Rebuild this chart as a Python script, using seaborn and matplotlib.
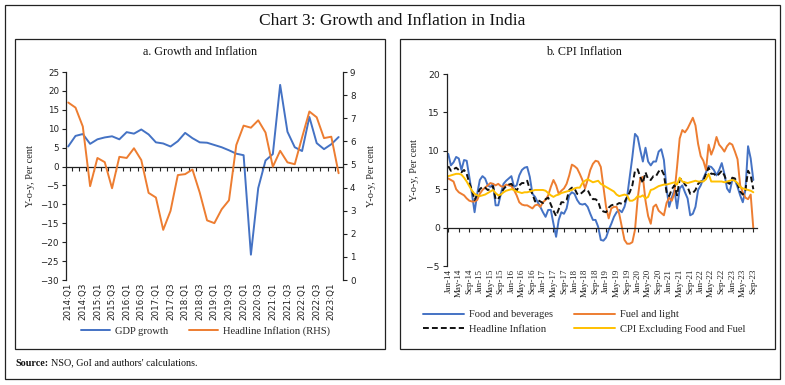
import numpy as np
import pandas as pd
import matplotlib
matplotlib.use("Agg")
import matplotlib.pyplot as plt
import seaborn as sns
from matplotlib.patches import Rectangle

# ---------------- data ----------------
quarters = ["2014:Q1", "2014:Q2", "2014:Q3", "2014:Q4", "2015:Q1", "2015:Q2", "2015:Q3", "2015:Q4",
            "2016:Q1", "2016:Q2", "2016:Q3", "2016:Q4", "2017:Q1", "2017:Q2", "2017:Q3", "2017:Q4",
            "2018:Q1", "2018:Q2", "2018:Q3", "2018:Q4", "2019:Q1", "2019:Q2", "2019:Q3", "2019:Q4",
            "2020:Q1", "2020:Q2", "2020:Q3", "2020:Q4", "2021:Q1", "2021:Q2", "2021:Q3", "2021:Q4",
            "2022:Q1", "2022:Q2", "2022:Q3", "2022:Q4", "2023:Q1", "2023:Q2"]
gdp_growth = [5.3, 8.1, 8.6, 6.0, 7.2, 7.7, 8.0, 7.2, 9.1, 8.7, 9.8, 8.5, 6.4, 6.1, 5.3, 6.7,
              8.9, 7.5, 6.4, 6.3, 5.7, 5.1, 4.3, 3.4, 3.0, -23.3, -5.7, 1.6, 3.3, 21.6, 9.2, 5.1,
              4.1, 13.1, 6.2, 4.6, 5.9, 7.8]
headline_q = [7.68, 7.46, 6.64, 4.06, 5.28, 5.10, 3.97, 5.33, 5.28, 5.70, 5.19, 3.77, 3.57, 2.17,
              2.99, 4.54, 4.58, 4.78, 3.78, 2.58, 2.46, 3.06, 3.45, 5.84, 6.68, 6.59, 6.91, 6.38,
              4.90, 5.59, 5.09, 5.01, 6.17, 7.29, 7.04, 6.14, 6.20, 4.62]

months = pd.date_range("2014-01-01", "2023-09-01", freq="MS").strftime("%b-%y").tolist()
food = [9.6, 8.1, 8.5, 9.2, 9.0, 7.5, 8.8, 8.7, 6.6, 4.4, 2.0, 4.4,
        6.2, 6.7, 6.4, 5.5, 5.3, 5.7, 2.9, 2.9, 4.4, 5.7, 6.1, 6.4,
        6.7, 5.3, 5.5, 6.8, 7.5, 7.8, 7.9, 6.6, 4.4, 4.0, 3.3, 2.7,
        2.0, 1.4, 2.3, 2.3, 0.5, -1.2, 1.0, 2.0, 1.8, 2.5, 4.2, 4.6,
        4.4, 3.6, 3.1, 3.0, 3.1, 2.7, 1.8, 1.0, 1.0, 0.1, -1.6, -1.7,
        -1.3, -0.3, 0.5, 1.4, 2.0, 2.3, 2.0, 2.7, 4.0, 6.6, 9.2, 12.2,
        11.8, 10.1, 8.6, 10.4, 8.6, 8.1, 8.6, 8.6, 9.9, 10.2, 8.8, 5.1,
        2.7, 3.9, 4.9, 2.5, 5.1, 5.5, 4.6, 3.8, 1.6, 1.8, 2.7, 4.9,
        5.5, 6.4, 7.2, 8.0, 7.9, 7.5, 6.8, 7.5, 8.4, 7.0, 5.1, 4.6,
        6.2, 6.2, 5.3, 4.2, 3.3, 4.9, 10.6, 9.0, 6.2]
fuel = [6.4, 6.2, 6.0, 5.0, 4.6, 4.4, 4.2, 3.8, 3.5, 3.4, 3.4, 3.6,
        4.4, 4.9, 5.2, 5.5, 5.8, 5.7, 5.5, 5.7, 5.4, 5.3, 5.6, 5.5,
        5.4, 4.9, 4.2, 3.3, 3.0, 2.9, 2.9, 2.7, 2.5, 2.9, 3.0, 2.7,
        3.3, 3.6, 4.2, 5.3, 6.2, 5.5, 4.4, 4.8, 5.1, 5.7, 6.8, 8.2,
        8.0, 7.7, 7.0, 6.2, 5.1, 6.2, 7.5, 8.3, 8.7, 8.6, 7.9, 5.3,
        2.7, 1.2, 2.5, 2.7, 2.7, 1.8, 0.1, -1.6, -2.1, -2.1, -1.9, -0.3,
        3.7, 6.4, 6.6, 3.5, 1.5, 0.5, 2.7, 3.0, 2.2, 1.9, 1.6, 3.2,
        3.9, 3.5, 4.5, 7.9, 11.6, 12.7, 12.4, 12.9, 13.6, 14.3, 13.3, 10.9,
        9.3, 8.7, 7.5, 10.8, 9.5, 10.4, 11.8, 10.8, 10.4, 9.9, 10.6, 11.0,
        10.8, 9.9, 8.9, 5.5, 4.6, 3.9, 3.7, 4.3, -0.1]
headline_m = [8.0, 7.4, 7.6, 7.8, 7.5, 7.2, 7.5, 7.0, 5.8, 4.9, 3.6, 4.3,
              5.0, 5.3, 5.2, 4.9, 5.0, 5.4, 3.7, 3.7, 4.4, 5.0, 5.4, 5.6,
              5.7, 5.2, 4.8, 5.5, 5.8, 5.8, 6.1, 5.0, 4.4, 3.4, 3.6, 3.4,
              3.2, 3.7, 3.9, 3.0, 2.2, 1.5, 2.4, 3.3, 3.3, 3.6, 4.9, 5.2,
              5.1, 4.4, 4.3, 4.6, 4.9, 4.9, 4.2, 3.7, 3.7, 3.4, 2.3, 2.1,
              2.0, 2.6, 2.9, 3.0, 3.0, 3.2, 3.1, 3.3, 4.0, 4.6, 5.5, 7.4,
              7.6, 6.6, 5.8, 7.2, 6.3, 6.2, 6.7, 6.7, 7.3, 7.6, 6.9, 4.6,
              4.1, 5.0, 5.5, 4.2, 6.3, 6.3, 5.6, 5.3, 4.4, 4.5, 4.9, 5.7,
              6.0, 6.1, 7.0, 7.8, 7.0, 7.0, 6.7, 7.0, 7.4, 6.8, 5.9, 5.7,
              6.5, 6.4, 5.7, 4.7, 4.3, 4.9, 7.4, 6.8, 5.0]
core = [6.7, 6.8, 6.9, 7.0, 7.0, 6.9, 6.5, 6.0, 5.4, 4.8, 4.4, 4.2,
        4.1, 4.2, 4.3, 4.5, 4.7, 4.9, 4.5, 4.2, 4.3, 4.6, 4.8, 4.9,
        5.0, 4.9, 4.7, 4.6, 4.5, 4.6, 4.6, 4.7, 4.8, 4.9, 4.9, 4.9,
        4.9, 4.8, 4.5, 4.2, 4.0, 4.2, 4.3, 4.5, 4.6, 4.7, 4.8, 4.9,
        5.1, 5.2, 5.2, 5.8, 6.1, 6.3, 6.1, 5.9, 6.0, 6.1, 5.7, 5.5,
        5.3, 5.1, 4.9, 4.7, 4.3, 4.1, 4.2, 4.3, 4.2, 3.5, 3.5, 3.7,
        4.1, 4.0, 4.2, 3.8, 4.0, 4.9, 5.0, 5.2, 5.4, 5.5, 5.6, 5.6,
        5.7, 5.8, 5.9, 5.6, 6.5, 6.0, 5.9, 5.8, 5.9, 6.0, 6.1, 6.0,
        6.0, 6.0, 6.3, 7.0, 6.0, 6.0, 6.0, 6.0, 6.0, 5.9, 6.0, 6.1,
        6.2, 6.1, 5.8, 5.3, 5.1, 5.0, 4.9, 4.8, 4.6]

series_names = ["Food and beverages", "Fuel and light", "Headline Inflation",
                "CPI Excluding Food and Fuel"]

# ---------------- style ----------------
sns.set_theme(style="ticks")
plt.rcParams["font.family"] = ["DejaVu Sans"]
SERIF = ["Liberation Serif", "DejaVu Serif"]
BLUE, ORANGE, YELLOW = "#4472C4", "#ED7D31", "#FFC000"
AX_COL = "#222222"

W, H = 785, 385
fig = plt.figure(figsize=(W / 100, H / 100), dpi=100)
fig.patch.set_facecolor("white")


def fx(px):
    return px / W


def fy(py):
    return 1 - py / H


for (x0, y0, x1, y1) in [(5, 5, 780, 379), (15, 39, 385, 349), (400, 39, 775, 349)]:
    fig.patches.append(Rectangle((fx(x0), fy(y1)), fx(x1) - fx(x0), fy(y0) - fy(y1),
                                 transform=fig.transFigure, fill=False, ec=AX_COL, lw=0.9))

fig.text(0.5, fy(21), "Chart 3: Growth and Inflation in India", ha="center", va="center",
         family=SERIF, fontsize=12.5, color="#111111")
fig.text(fx(200), fy(52), "a. Growth and Inflation", ha="center", va="center",
         family=SERIF, fontsize=8.7, color="#111111")
fig.text(fx(584), fy(52), "b. CPI Inflation", ha="center", va="center",
         family=SERIF, fontsize=8.7, color="#111111")
fig.text(fx(15), fy(363), "Source:", ha="left", va="center", family=SERIF,
         fontsize=7.3, weight="bold", color="#111111")
fig.text(fx(51), fy(363), "NSO, GoI and authors' calculations.", ha="left", va="center",
         family=SERIF, fontsize=7.3, color="#111111")

TICK_FS = 6.3

# ---------------- panel a ----------------
ax1 = fig.add_axes([fx(66), fy(280), fx(343) - fx(66), fy(72) - fy(280)])
dfq = pd.DataFrame({"x": np.arange(len(quarters)), "gdp": gdp_growth, "inf": headline_q})
sns.lineplot(data=dfq, x="x", y="gdp", ax=ax1, color=BLUE, lw=1.4, label="GDP growth", legend=False)
ax1.set_ylim(-30, 25)
ax1.set_yticks(range(-30, 26, 5))
ax1.set_xlim(-0.3, len(quarters) - 0.4)
ax1.spines["bottom"].set_position(("data", 0))
ax1.spines["top"].set_visible(False)
ax1.spines["right"].set_visible(False)
for s in ("left", "bottom"):
    ax1.spines[s].set_color(AX_COL)
    ax1.spines[s].set_linewidth(0.9)
ax1.set_xticks(np.arange(0.5, len(quarters) - 0.5, 1))
ax1.tick_params(axis="x", direction="out", length=3, width=0.8, color=AX_COL, labelbottom=False)
ax1.tick_params(axis="y", direction="out", length=3, width=0.8, color=AX_COL,
                labelsize=TICK_FS, pad=2, labelcolor="#222222")
ax1.set_xlabel("")
ax1.set_ylabel("Y-o-y, Per cent", family=SERIF, fontsize=7.5, labelpad=4)

secq = ax1.secondary_xaxis("bottom")
secq.set_xticks(np.arange(0, len(quarters), 2), quarters[::2])
secq.tick_params(axis="x", length=0, pad=2, labelsize=TICK_FS, rotation=90, labelcolor="#222222")
secq.spines["bottom"].set_visible(False)

ax2 = ax1.twinx()
sns.lineplot(data=dfq, x="x", y="inf", ax=ax2, color=ORANGE, lw=1.4,
             label="Headline Inflation (RHS)", legend=False)
ax2.set_ylim(0, 9)
ax2.set_yticks(range(0, 10))
for s in ("top", "bottom", "left"):
    ax2.spines[s].set_visible(False)
ax2.spines["right"].set_color(AX_COL)
ax2.spines["right"].set_linewidth(0.9)
ax2.tick_params(axis="y", direction="out", length=3, width=0.8, color=AX_COL,
                labelsize=TICK_FS, pad=2, labelcolor="#222222")
ax2.set_ylabel("Y-o-y, Per cent", family=SERIF, fontsize=7.5, labelpad=8)

h1, l1 = ax1.get_legend_handles_labels()
h2, l2 = ax2.get_legend_handles_labels()
fig.legend(h1 + h2, l1 + l2, loc="upper left", bbox_to_anchor=(fx(81), fy(326)), ncol=2,
           frameon=False, prop={"family": SERIF, "size": 7.6}, handlelength=2.7,
           handletextpad=0.5, columnspacing=2.0, borderpad=0, borderaxespad=0)

# ---------------- panel b ----------------
ax3 = fig.add_axes([fx(446.7), fy(266), fx(757) - fx(446.7), fy(74) - fy(266)])
dfm = pd.DataFrame({"m": np.arange(len(months)), series_names[0]: food, series_names[1]: fuel,
                    series_names[2]: headline_m, series_names[3]: core})
long = dfm.melt(id_vars="m", var_name="series", value_name="val")
sns.lineplot(data=long, x="m", y="val", hue="series", style="series", hue_order=series_names,
             style_order=series_names,
             palette={series_names[0]: BLUE, series_names[1]: ORANGE,
                      series_names[2]: "#111111", series_names[3]: YELLOW},
             dashes={series_names[0]: "", series_names[1]: "", series_names[2]: (3, 1.6),
                     series_names[3]: ""},
             lw=1.4, ax=ax3)
ax3.set_ylim(-5, 20)
ax3.set_yticks(range(-5, 21, 5))
ax3.set_xlim(-0.6, 117.4)
ax3.spines["bottom"].set_position(("data", 0))
ax3.spines["top"].set_visible(False)
ax3.spines["right"].set_visible(False)
for s in ("left", "bottom"):
    ax3.spines[s].set_color(AX_COL)
    ax3.spines[s].set_linewidth(0.9)
ax3.set_xticks(np.arange(0, len(months), 4))
ax3.tick_params(axis="x", direction="out", length=3, width=0.8, color=AX_COL, labelbottom=False)
ax3.tick_params(axis="y", direction="out", length=3, width=0.8, color=AX_COL,
                labelsize=TICK_FS + 0.3, pad=2, labelcolor="#222222")
ax3.set_xlabel("")
ax3.set_ylabel("Y-o-y, Per cent", family=SERIF, fontsize=7.5, labelpad=5)

secm = ax3.secondary_xaxis("bottom")
secm.set_xticks(np.arange(0, len(months), 4), months[::4])
secm.tick_params(axis="x", length=0, pad=2, labelsize=TICK_FS + 0.2, rotation=90,
                 labelcolor="#222222")
for lab in secm.get_xticklabels():
    lab.set_family(SERIF)
secm.spines["bottom"].set_visible(False)

handles, labels = ax3.get_legend_handles_labels()
hmap = dict(zip(labels, handles))
order = [series_names[0], series_names[2], series_names[1], series_names[3]]
ax3.get_legend().remove()
fig.legend([hmap[k] for k in order], order, loc="upper left", bbox_to_anchor=(fx(423), fy(310)),
           ncol=2, frameon=False, prop={"family": SERIF, "size": 7.6}, handlelength=3.9,
           handletextpad=0.5, columnspacing=1.9, labelspacing=0.5, borderpad=0, borderaxespad=0)

fig.savefig("out.png", dpi=100, facecolor="white")
